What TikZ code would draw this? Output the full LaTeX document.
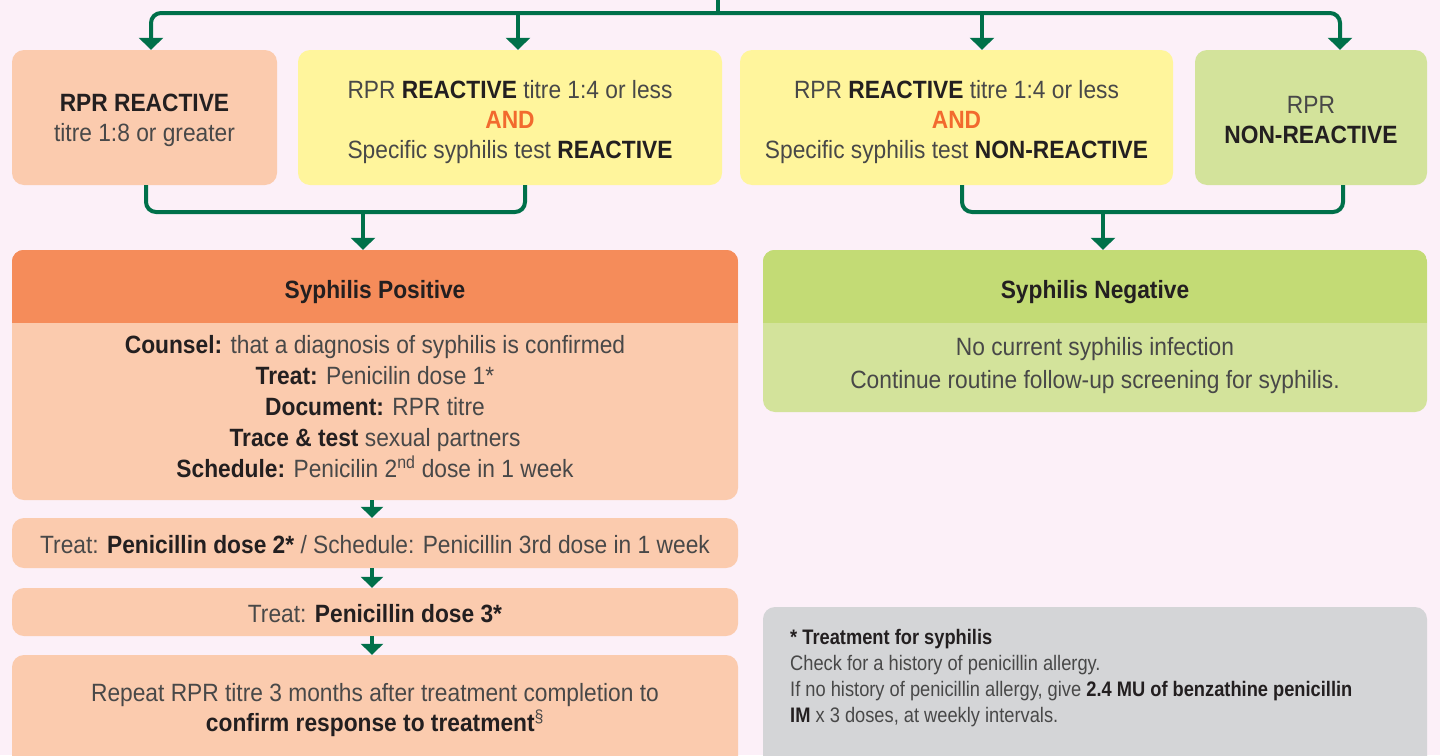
\documentclass[tikz,border=0pt]{standalone}
\usepackage{fontspec}
\setmainfont{Liberation Sans}[FakeStretch=0.91]
\newfontfamily\notefont{Liberation Sans}[FakeStretch=0.87]
\usetikzlibrary{arrows.meta}

\definecolor{paper}{HTML}{FCF0F8}
\definecolor{peach}{HTML}{FBCBAE}
\definecolor{orangehd}{HTML}{F58C5A}
\definecolor{lemon}{HTML}{FFF59C}
\definecolor{sage}{HTML}{D3E39B}
\definecolor{sagehd}{HTML}{C3DB75}
\definecolor{fog}{HTML}{D4D5D7}
\definecolor{pine}{HTML}{00704A}
\definecolor{flame}{HTML}{F26A2E}
\definecolor{ink}{HTML}{231F20}
\definecolor{softink}{HTML}{484848}

\newcommand\boldtxt[1]{{\bfseries\color{ink}#1}}

\begin{document}
\begin{tikzpicture}[x=1pt,y=-1pt,
  box/.style={rounded corners=12pt, inner sep=0pt, draw=none, align=center,
    text=softink, font=\fontsize{25}{30}\selectfont},
  txt/.style={inner sep=0pt, align=center, text=softink,
    font=\fontsize{25}{30}\selectfont},
  conn/.style={draw=pine, line width=4pt},
  arr/.style={conn, -{Triangle[width=24pt,length=12pt]}},
  arrs/.style={conn, -{Triangle[width=22pt,length=11pt]}}]

\fill[paper] (0,0) rectangle (1440,755);
\useasboundingbox (0,0) rectangle (1440,755);

% first row: test results
\node[box, fill=peach, minimum width=265, minimum height=135] (ra) at (144.5,117.5) {};
\node[box, fill=lemon, minimum width=424, minimum height=135] (rb) at (510,117.5) {};
\node[box, fill=lemon, minimum width=433, minimum height=135] (rc) at (956.5,117.5) {};
\node[box, fill=sage, minimum width=232, minimum height=135] (rd) at (1311,117.5) {};
\node[txt] (ratxt) at (144.5,120.5)
  {\boldtxt{RPR REACTIVE}\\titre 1:8 or greater};
\node[txt] (rbtxt) at (510,122.5)
  {RPR \boldtxt{REACTIVE} titre 1:4 or less\\{\bfseries\color{flame}AND}\\Specific syphilis test \boldtxt{REACTIVE}};
\node[txt] (rctxt) at (956.5,122.5)
  {RPR \boldtxt{REACTIVE} titre 1:4 or less\\{\bfseries\color{flame}AND}\\Specific syphilis test \boldtxt{NON-REACTIVE}};
\node[txt] (rdtxt) at (1311,120)
  {RPR\\\boldtxt{NON-REACTIVE}};

% outcome panels
\node[box, fill=peach, minimum width=726, minimum height=250] (pos) at (375,375) {};
\begin{scope}
  \clip[rounded corners=12pt] (pos.south west) rectangle (pos.north east);
  \fill[orangehd] (pos.north west) rectangle ([yshift=-73pt]pos.north east);
\end{scope}
\node[txt] (poshd) at (375,292) {\boldtxt{Syphilis Positive}};
\node[txt, font=\fontsize{25}{31}\selectfont] (posbody) at (375,406.5)
  {\boldtxt{Counsel:} that a diagnosis of syphilis is confirmed\\
   \boldtxt{Treat:} Penicilin dose 1*\\
   \boldtxt{Document:} RPR titre\\
   \boldtxt{Trace \& test} sexual partners\\
   \boldtxt{Schedule:} Penicilin 2\textsuperscript{nd} dose in 1 week};

\node[box, fill=sage, minimum width=664, minimum height=162] (neg) at (1095,331) {};
\begin{scope}
  \clip[rounded corners=12pt] (neg.south west) rectangle (neg.north east);
  \fill[sagehd] (neg.north west) rectangle ([yshift=-73pt]neg.north east);
\end{scope}
\node[txt] (neghd) at (1095,292) {\boldtxt{Syphilis Negative}};
\node[txt, font=\fontsize{25}{33}\selectfont] (negbody) at (1095,366)
  {No current syphilis infection\\Continue routine follow-up screening for syphilis.};

% treatment steps
\node[box, fill=peach, minimum width=726, minimum height=50] (d2) at (375,543) {};
\node[txt] (d2txt) at (375,545)
  {Treat: \boldtxt{Penicillin dose 2*} / Schedule: Penicillin 3rd dose in 1 week};
\node[box, fill=peach, minimum width=726, minimum height=48] (d3) at (375,612) {};
\node[txt] (d3txt) at (375,614) {Treat: \boldtxt{Penicillin dose 3*}};
\node[box, fill=peach, minimum width=726, minimum height=125] (d4) at (375,717.5) {};
\node[txt] (d4txt) at (375,710)
  {Repeat RPR titre 3 months after treatment completion to\\
   \boldtxt{confirm response to treatment}\textsuperscript{§}};

% footnote panel
\node[box, fill=fog, minimum width=664, minimum height=180] (note) at (1095,697) {};
\node[inner sep=0pt, anchor=north west, align=left, text=softink,
  font=\notefont\fontsize{21}{26}\selectfont] (notetxt) at (790,629)
  {\boldtxt{* Treatment for syphilis}\\
   Check for a history of penicillin allergy.\\
   If no history of penicillin allergy, give \boldtxt{2.4 MU of benzathine penicillin}\\
   \boldtxt{IM} x 3 doses, at weekly intervals.};

% connectors from the feed line above
\coordinate (feed) at (718,-10);
\coordinate (hub) at (718,13);
\draw[conn] (feed) -- (hub);
\draw[arr, rounded corners=10pt] (hub) -| ([xshift=6.5pt]ra.north);
\draw[arr, rounded corners=10pt] (hub) -| ([xshift=29pt]rd.north);
\draw[arr] ([xshift=8pt]rb.north |- hub) -- ([xshift=8pt]rb.north);
\draw[arr] ([xshift=25.5pt]rc.north |- hub) -- ([xshift=25.5pt]rc.north);

% merging into outcomes
\coordinate (mergeL) at (363,212);
\coordinate (mergeR) at (1103,212);
\draw[conn, rounded corners=10pt] ([xshift=1.5pt]ra.south) |- (mergeL) -| ([xshift=15pt]rb.south);
\draw[arr] (mergeL) -- (mergeL |- pos.north);
\draw[conn, rounded corners=10pt] ([xshift=5.5pt]rc.south) |- (mergeR) -| ([xshift=32pt]rd.south);
\draw[arr] (mergeR) -- (mergeR |- neg.north);

% treatment sequence
\draw[arrs] ([xshift=-3pt]pos.south) -- ([xshift=-3pt]d2.north);
\draw[arrs] ([xshift=-3pt]d2.south) -- ([xshift=-3pt]d3.north);
\draw[arrs] ([xshift=-3pt]d3.south) -- ([xshift=-3pt]d4.north);
\end{tikzpicture}
\end{document}
